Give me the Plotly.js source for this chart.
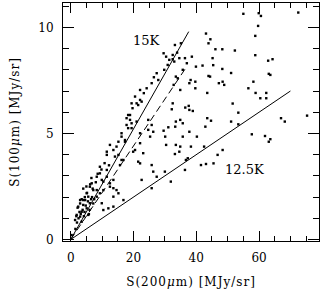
<!DOCTYPE html>
<html><head><meta charset="utf-8">
<script src="https://cdn.plot.ly/plotly-3.0.1.min.js"></script>
<style>
html,body{margin:0;padding:0;background:#fff;}
#chart{width:322px;height:295px;}
.xtitle,.ytitle{letter-spacing:1px;}
</style>
</head><body>
<div id="chart"></div>
<script>
// S(200um) values [MJy/sr]
const s200 = [
 55.0,59.9,60.6,72.5,59.7,58.8,43.1,44.5,43.9,46.1,48.3,52.3,45.2,45.4,58.8,62.9,64.3,42.0,39.9,48.3,
 51.1,63.1,63.6,43.9,44.4,48.4,47.2,48.9,38.2,39.7,39.7,37.8,58.2,56.6,43.5,58.9,62.3,60.4,62.3,34.9,
 51.6,53.4,36.5,37.6,37.8,38.9,32.5,32.2,67.0,68.2,75.3,43.5,44.7,51.1,53.4,42.9,34.9,33.5,35.7,31.1,
 33.3,37.8,29.6,30.1,35.7,40.2,57.7,61.9,63.6,63.1,30.4,33.5,34.9,38.3,42.5,
 33.2,35.1,33.9,32.5,34.6,32.5,33.0,31.4,30.4,29.6,38.6,36.4,37.0,35.7,33.5,34.1,32.8,30.9,29.8,
 27.4,26.5,27.9,25.8,24.2,23.3,22.1,20.5,22.1,21.0,19.7,18.9,17.8,19.4,18.3,24.7,25.8,26.3,25.3,16.2,17.3,14.6,
 11.5,14.1,16.8,15.7,19.9,22.1,25.8,9.3,11.5,13.6,10.4,6.1,8.3,9.3,5.6,3.0,4.0,5.1,3.5,5.6,
 3.0,2.4,4.6,6.1,12.5,14.6,13.6,15.2,9.9,10.4,12.0,16.8,13.6,26.3,27.4,25.8,22.6,1.9,1.4,3.5,0.3,
 30.0,31.9,33.2,34.6,36.7,36.4,37.3,41.5,43.1,45.5,46.8,48.4,
 19.4,21.5,22.6,18.3,18.9,17.8,21.0,19.4,16.2,15.2,17.3,12.5,13.6,11.5,15.2,16.2,9.3,11.5,8.3,9.9,
 12.5,6.7,7.2,5.1,4.0,8.3,10.4,13.6,22.1,22.1,23.1,21.5,24.7,20.5,
 1.5,2.0,2.5,3.2,3.8,4.2,4.8,5.5,6.0,6.5,3.0,2.8,4.5,5.2,6.8,7.5,3.5,4.0,5.0,6.2,
 7.0,8.0,2.2,1.8,4.4,5.8,7.2,6.6,8.6,9.8,10.8,12.2
];
// S(100um) values [MJy/sr]
const s100 = [
 10.64,10.67,10.54,10.70,10.07,9.60,9.71,9.44,9.25,8.97,8.97,8.91,8.55,8.22,8.69,8.43,8.50,8.20,8.15,8.04,
 7.85,7.81,7.76,7.71,7.68,7.44,7.37,7.29,7.52,7.44,7.13,7.37,7.44,7.13,6.91,6.91,6.91,6.66,6.66,7.05,
 6.41,5.98,6.22,6.30,6.11,6.06,6.42,6.14,5.72,5.56,5.84,5.72,5.60,5.56,5.43,5.32,5.64,5.56,5.48,5.29,
 5.32,5.08,5.13,4.85,4.85,4.85,4.96,4.88,4.73,4.61,4.46,4.46,4.38,4.38,4.38,
 9.17,9.25,8.81,8.70,8.55,8.50,8.39,8.47,8.62,8.78,8.62,8.55,8.31,8.00,7.68,7.60,7.29,8.23,8.00,
 7.84,7.65,7.52,7.37,7.13,6.90,7.05,6.74,6.58,6.42,6.19,5.87,5.72,5.48,5.25,5.64,5.40,5.08,4.85,4.85,4.69,4.38,
 4.14,3.91,3.75,3.51,4.14,3.59,3.51,3.12,2.96,2.81,2.73,2.49,2.33,2.18,2.02,1.86,1.63,1.47,1.31,1.16,
 1.08,1.55,1.86,1.71,2.49,2.33,2.02,2.18,1.71,1.39,1.47,1.86,1.55,3.20,2.96,2.42,2.81,1.16,0.92,0.84,0.21,
 3.20,2.73,4.03,4.14,3.75,3.28,3.83,3.51,3.56,3.59,3.99,4.22,
 6.42,6.34,6.50,5.87,5.64,5.40,5.56,5.25,5.01,4.61,4.61,4.46,4.22,3.99,3.99,3.75,3.43,3.28,2.96,2.81,
 2.65,2.65,2.33,2.18,1.86,2.02,2.33,2.42,5.01,4.54,4.07,3.67,5.17,4.22,
 0.50,0.80,1.00,1.20,1.40,1.10,1.60,1.80,1.40,1.90,1.70,1.30,2.00,2.20,2.00,1.90,1.90,2.40,2.50,2.60,
 2.40,2.70,1.50,1.10,1.30,1.20,1.70,2.90,3.10,3.30,3.60,3.50
];
// model lines
const line15x = [0, 37.6], line15y = [0, 9.8];
const lineDx = [0, 36.5], lineDy = [0, 8.05];
const line125x = [0, 70], line125y = [0, 7.0];
const labels = ["15K", "12.5K"];
const labelX = [24.2, 55.3], labelY = [9.36, 3.28];

const font = "DejaVu Serif";
const traces = [
 {x: s200, y: s100, type: 'scatter', mode: 'markers',
  marker: {symbol: 'square', size: 2.4, color: '#000'}, hoverinfo: 'skip'},
 {x: line15x, y: line15y, type: 'scatter', mode: 'lines', line: {color: '#000', width: 1}},
 {x: lineDx, y: lineDy, type: 'scatter', mode: 'lines', line: {color: '#000', width: 1, dash: '7px,4px'}},
 {x: line125x, y: line125y, type: 'scatter', mode: 'lines', line: {color: '#000', width: 1}}
];
const layout = {
 width: 322, height: 295,
 margin: {l: 63, r: 3, t: 3, b: 54},
 showlegend: false,
 paper_bgcolor: '#fff', plot_bgcolor: '#fff',
 font: {family: font, size: 12, color: '#000'},
 xaxis: {range: [-2.45, 79.1], tickvals: [0, 20, 40, 60], ticks: 'inside', ticklen: 10, tickwidth: 1,
  tickcolor: '#000', showline: true, linecolor: '#000', linewidth: 1, mirror: 'ticks',
  showgrid: false, zeroline: false, ticklabelstandoff: 6,
  minor: {dtick: 5, tick0: 0, ticks: 'inside', ticklen: 5, tickcolor: '#000', showgrid: false},
  tickfont: {family: font, size: 12},
  title: {text: 'S(200<i>μ</i>m) [MJy/sr]', font: {family: font, size: 12}, standoff: 13}},
 yaxis: {range: [-0.07, 11.15], tickvals: [0, 5, 10], ticks: 'inside', ticklen: 11, tickwidth: 1,
  tickcolor: '#000', showline: true, linecolor: '#000', linewidth: 1, mirror: 'ticks',
  showgrid: false, zeroline: false, ticklabelstandoff: 6,
  minor: {dtick: 1, tick0: 0, ticks: 'inside', ticklen: 6, tickcolor: '#000', showgrid: false},
  tickfont: {family: font, size: 12},
  title: {text: 'S(100<i>μ</i>m) [MJy/sr]', font: {family: font, size: 12}, standoff: 16}},
 annotations: labels.map((t, i) => ({x: labelX[i], y: labelY[i], text: t, showarrow: false,
  font: {family: font, size: 13, color: '#000'}}))
};
Plotly.newPlot('chart', traces, layout, {staticPlot: true, displayModeBar: false});
</script>
</body></html>
